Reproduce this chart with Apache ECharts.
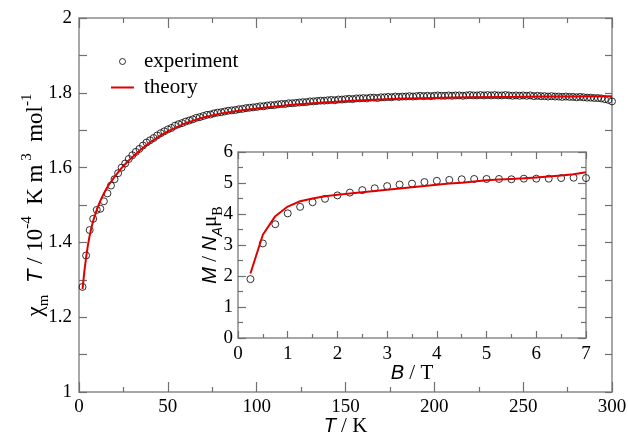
<!DOCTYPE html>
<html>
<head>
<meta charset="utf-8">
<script src="https://cdn.jsdelivr.net/npm/echarts@6/dist/echarts.min.js"></script>
<style>
html,body{margin:0;padding:0;background:#fff;}
#chart{width:628px;height:434px;}
</style>
</head>
<body>
<div id="chart"></div>
<script>
// ---- main panel: chi_m T vs T ----
const expT = [2,4,6,8,10,12,14,16,18,20,22,24,26,28,30,32,34,36,38,40,42,44,46,48,50,52,54,56,58,60,62,64,66,68,70,72,74,76,78,80,82,84,86,88,90,92,94,96,98,100,102,104,106,108,110,112,114,116,118,120,122,124,126,128,130,132,134,136,138,140,142,144,146,148,150,152,154,156,158,160,162,164,166,168,170,172,174,176,178,180,182,184,186,188,190,192,194,196,198,200,202,204,206,208,210,212,214,216,218,220,222,224,226,228,230,232,234,236,238,240,242,244,246,248,250,252,254,256,258,260,262,264,266,268,270,272,274,276,278,280,282,284,286,288,290,292,294,296,298,300];
const expChiT = [1.281,1.365,1.433,1.463,1.487,1.490,1.510,1.531,1.552,1.569,1.585,1.600,1.611,1.623,1.633,1.642,1.650,1.659,1.667,1.673,1.679,1.686,1.692,1.697,1.702,1.706,1.712,1.716,1.719,1.723,1.726,1.729,1.733,1.735,1.738,1.741,1.742,1.745,1.747,1.748,1.750,1.752,1.753,1.754,1.756,1.757,1.759,1.760,1.761,1.762,1.764,1.764,1.766,1.767,1.767,1.769,1.770,1.770,1.772,1.772,1.773,1.774,1.775,1.775,1.777,1.777,1.778,1.779,1.779,1.780,1.781,1.780,1.782,1.782,1.783,1.784,1.783,1.785,1.785,1.786,1.785,1.787,1.787,1.786,1.788,1.788,1.789,1.788,1.790,1.789,1.790,1.790,1.791,1.790,1.791,1.792,1.791,1.792,1.791,1.792,1.793,1.792,1.792,1.793,1.792,1.793,1.793,1.792,1.793,1.794,1.793,1.793,1.794,1.793,1.794,1.793,1.794,1.793,1.793,1.794,1.793,1.792,1.793,1.792,1.793,1.792,1.793,1.791,1.792,1.791,1.791,1.790,1.791,1.790,1.790,1.789,1.790,1.789,1.789,1.788,1.789,1.788,1.787,1.787,1.786,1.786,1.785,1.783,1.781,1.777];
const thT = [2,3,4,5,6,7,8,9,10,12,14,16,18,20,22,24,26,28,30,35,40,45,50,60,70,80,90,100,120,140,160,180,200,220,240,260,280,300];
const thChiT = [1.275,1.322,1.360,1.392,1.418,1.440,1.458,1.473,1.487,1.511,1.531,1.548,1.562,1.575,1.587,1.599,1.609,1.619,1.628,1.649,1.667,1.683,1.697,1.719,1.734,1.745,1.752,1.758,1.768,1.775,1.780,1.784,1.786,1.788,1.789,1.790,1.790,1.791];

// ---- inset: M / N_A mu_B vs B ----
const expB = [0.25,0.5,0.75,1.0,1.25,1.5,1.75,2.0,2.25,2.5,2.75,3.0,3.25,3.5,3.75,4.0,4.25,4.5,4.75,5.0,5.25,5.5,5.75,6.0,6.25,6.5,6.75,7.0];
const expM = [1.90,3.05,3.67,4.02,4.23,4.38,4.49,4.60,4.69,4.77,4.83,4.90,4.95,4.98,5.03,5.07,5.10,5.12,5.13,5.13,5.13,5.12,5.14,5.14,5.14,5.16,5.17,5.16];
const thB = [0.25,0.5,0.75,1.0,1.25,1.5,1.75,2.0,2.25,2.5,2.75,3.0,3.25,3.5,3.75,4.0,4.25,4.5,4.75,5.0,5.25,5.5,5.75,6.0,6.25,6.5,6.75,7.0];
const thM = [2.08,3.33,3.93,4.24,4.41,4.50,4.57,4.62,4.66,4.70,4.74,4.78,4.82,4.86,4.90,4.94,4.98,5.01,5.05,5.09,5.11,5.13,5.15,5.18,5.21,5.24,5.28,5.35];

// tick label lists
const mainYLabels = ['1','1.2','1.4','1.6','1.8','2'];

const SERIF = 'Liberation Serif';
const SANS = 'Liberation Sans';
const AX = '#8a8a8a';
const TK = '#707070';

const rich = {
  s:   {fontFamily: SERIF, fontSize: 21, color: '#000', lineHeight: 30},
  it:  {fontFamily: SANS, fontStyle: 'italic', fontSize: 20, color: '#000', lineHeight: 30},
  sup: {fontFamily: SERIF, fontSize: 14, color: '#000', lineHeight: 14, verticalAlign: 'top'},
  sub: {fontFamily: SERIF, fontSize: 14, color: '#000', lineHeight: 14, verticalAlign: 'bottom'},
  itsub: {fontFamily: SANS, fontStyle: 'italic', fontSize: 14, color: '#000', lineHeight: 14, verticalAlign: 'bottom'}
};
const richBig = {
  s:   {fontFamily: SERIF, fontSize: 23, color: '#000', lineHeight: 32},
  it:  {fontFamily: SANS, fontStyle: 'italic', fontSize: 22, color: '#000', lineHeight: 32},
  sup: {fontFamily: SERIF, fontSize: 15, color: '#000', lineHeight: 15, verticalAlign: 'top'},
  sub: {fontFamily: SERIF, fontSize: 15, color: '#000', lineHeight: 15, verticalAlign: 'bottom'}
};

function pair(arrX, arrY){ return arrX.map((x,i)=>[x, arrY[i]]); }

function mkAxis(o){
  return Object.assign({
    type: 'value',
    nameMoveOverlap: false,
    axisLine: {show: true, onZero: false, lineStyle: {color: AX, width: 1.5}},
    axisTick: {show: true, inside: true, length: 9, lineStyle: {color: TK, width: 1.2}},
    minorTick: {show: true, splitNumber: 2, length: 5, lineStyle: {color: TK, width: 1.2}},
    splitLine: {show: false},
    axisLabel: {show: false}
  }, o);
}
const lbl = (m)=>({show: true, color: '#000', fontFamily: SERIF, fontSize: 19, margin: m});

const chart = echarts.init(document.getElementById('chart'), null, {renderer: 'canvas'});
chart.setOption({
  animation: false,
  backgroundColor: '#fff',
  grid: [
    {left: 79, right: 16, top: 18, bottom: 42, show: false, containLabel: false, outerBoundsMode: 'none'},
    {left: 238, right: 42, top: 152, bottom: 96, show: true, backgroundColor: '#fff', borderWidth: 0, containLabel: false, outerBoundsMode: 'none'}
  ],
  legend: {
    orient: 'vertical', left: 106, top: 46, itemWidth: 23, itemHeight: 6, itemGap: 5,
    textStyle: {fontFamily: SERIF, fontSize: 21, color: '#000', lineHeight: 21, padding: [0,0,0,5]},
    data: [
      {name: 'experiment', icon: 'circle', itemStyle: {color: '#fff', borderColor: '#000', borderWidth: 1}},
      {name: 'theory', icon: 'path://M0,0H23V2H0Z', itemStyle: {color: '#e00000'}}
    ]
  },
  xAxis: [
    mkAxis({gridIndex: 0, position: 'bottom', min: 0, max: 300, interval: 50,
      axisTick: {show: true, inside: true, length: 10, lineStyle: {color: TK, width: 1.2}},
      axisLabel: lbl(6),
      name: '{it|T}{s| / K}', nameLocation: 'middle', nameGap: 19,
      nameTextStyle: {rich: rich}}),
    mkAxis({gridIndex: 0, position: 'top', min: 0, max: 300, interval: 50,
      axisTick: {show: true, inside: true, length: 10, lineStyle: {color: TK, width: 1.2}}}),
    mkAxis({gridIndex: 1, position: 'bottom', min: 0, max: 7, interval: 1,
      axisTick: {show: true, inside: true, length: 7, lineStyle: {color: TK, width: 1.2}},
      minorTick: {show: true, splitNumber: 2, length: 4, lineStyle: {color: TK, width: 1.2}},
      axisLabel: lbl(7),
      name: '{it|B}{s| / T}', nameLocation: 'middle', nameGap: 20,
      nameTextStyle: {rich: rich}}),
    mkAxis({gridIndex: 1, position: 'top', min: 0, max: 7, interval: 1,
      axisTick: {show: true, inside: true, length: 7, lineStyle: {color: TK, width: 1.2}},
      minorTick: {show: true, splitNumber: 2, length: 4, lineStyle: {color: TK, width: 1.2}}})
  ],
  yAxis: [
    mkAxis({gridIndex: 0, position: 'left', min: 1, max: 2, interval: 0.1,
      axisTick: {show: true, inside: true, length: 8, lineStyle: {color: TK, width: 1.2}},
      minorTick: {show: false},
      axisLabel: Object.assign(lbl(7), {formatter: function(v){
        const k = Math.round(v*10);
        if (k % 2 !== 0) return '';
        return mainYLabels[(k-10)/2];
      }}),
      name: '{s|\u03c7}{sub|m}{s|  }{it|T}{s| / 10}{sup|-4}{s|  K m}{sup| 3}{s|  mol}{sup|-1}',
      nameLocation: 'middle', nameGap: 27, nameTextStyle: {rich: richBig}}),
    mkAxis({gridIndex: 0, position: 'right', min: 1, max: 2, interval: 0.1,
      axisTick: {show: true, inside: true, length: 7, lineStyle: {color: TK, width: 1.2}},
      minorTick: {show: false}}),
    mkAxis({gridIndex: 1, position: 'left', min: 0, max: 6, interval: 1,
      axisTick: {show: true, inside: true, length: 8, lineStyle: {color: TK, width: 1.2}},
      axisLabel: lbl(5),
      name: '{it|M}{s| / }{it|N}{itsub|A}{s|\u03bc}{sub|B}',
      nameLocation: 'middle', nameGap: 13, nameTextStyle: {rich: rich}}),
    mkAxis({gridIndex: 1, position: 'right', min: 0, max: 6, interval: 1,
      axisTick: {show: true, inside: true, length: 8, lineStyle: {color: TK, width: 1.2}}})
  ],
  series: [
    {name: 'experiment', type: 'scatter', xAxisIndex: 0, yAxisIndex: 0, data: pair(expT, expChiT),
     symbol: 'circle', symbolSize: 7, itemStyle: {color: 'rgba(255,255,255,0)', borderColor: '#000', borderWidth: 1}, z: 3},
    {name: 'theory', type: 'line', xAxisIndex: 0, yAxisIndex: 0, data: pair(thT, thChiT),
     showSymbol: false, symbol: 'none', color: '#e00000', lineStyle: {color: '#e00000', width: 2}, z: 4},
    {name: 'experiment', type: 'scatter', xAxisIndex: 2, yAxisIndex: 2, data: pair(expB, expM),
     symbol: 'circle', symbolSize: 7, itemStyle: {color: 'rgba(255,255,255,0)', borderColor: '#000', borderWidth: 1}, z: 3},
    {name: 'theory', type: 'line', xAxisIndex: 2, yAxisIndex: 2, data: pair(thB, thM),
     showSymbol: false, symbol: 'none', color: '#e00000', lineStyle: {color: '#e00000', width: 2}, z: 4}
  ]
});
</script>
</body>
</html>
